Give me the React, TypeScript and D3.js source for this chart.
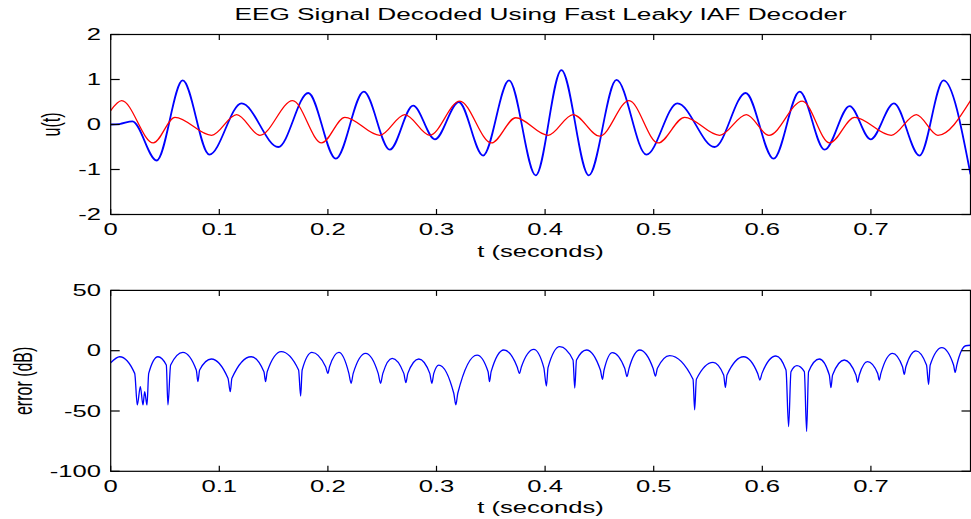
import React from 'react';
import * as d3 from 'd3';

// ---------- data ----------
const T_MAX = 0.7917;

// original EEG signal u(t): extrema [t (s), u]
const originalSignal: [number, number][] = [
  [0, 0], [0.008, 0.01], [0.02, 0.07], [0.0423, -0.80], [0.0663, 0.98], [0.0908, -0.67],
  [0.1205, 0.47], [0.1543, -0.50], [0.1819, 0.70], [0.2073, -0.76], [0.2331, 0.73],
  [0.2570, -0.56], [0.2785, 0.42], [0.2985, -0.33], [0.3205, 0.50], [0.3429, -0.69],
  [0.3668, 0.98], [0.3914, -1.13], [0.4150, 1.21], [0.4402, -1.13], [0.4657, 0.99],
  [0.4933, -0.67], [0.5218, 0.47], [0.5561, -0.50], [0.5847, 0.70], [0.6104, -0.76],
  [0.6344, 0.73], [0.6574, -0.56], [0.6804, 0.41], [0.6997, -0.33], [0.7212, 0.47],
  [0.7448, -0.69], [0.7669, 0.98], [0.7917, -1.11],
];

// decoded signal: extrema [t (s), u]
const decodedSignal: [number, number][] = [
  [0, 0.31], [0.0101, 0.53], [0.0392, -0.41], [0.0592, 0.16], [0.0929, -0.24],
  [0.1160, 0.22], [0.1374, -0.24], [0.1675, 0.53], [0.1942, -0.41], [0.2156, 0.16],
  [0.2478, -0.24], [0.2708, 0.22], [0.2938, -0.24], [0.3214, 0.52], [0.3506, -0.41],
  [0.3730, 0.15], [0.4027, -0.24], [0.4258, 0.22], [0.4503, -0.26], [0.4773, 0.53],
  [0.5040, -0.41], [0.5285, 0.16], [0.5607, -0.24], [0.5853, 0.22], [0.6061, -0.24],
  [0.6368, 0.52], [0.6620, -0.41], [0.6850, 0.16], [0.7187, -0.24], [0.7418, 0.22],
  [0.7617, -0.24], [0.7917, 0.53],
];

// reconstruction error in dB: arch tops, knees and dips [t (s), dB]
const errorDb: [number, number][] = [
  [0, -10], [0.0083, -5],
  [0.0221, -18.8], [0.0245, -45], [0.0273, -29.8], [0.0297, -45], [0.0313, -34], [0.0334, -45], [0.0350, -18.8],
  [0.0435, -5],
  [0.0512, -11.9], [0.0527, -45], [0.0552, -11.9],
  [0.0665, -1.4],
  [0.0788, -16], [0.0803, -25.7], [0.0819, -16],
  [0.0926, -6.9],
  [0.1080, -22.9], [0.1101, -34], [0.1116, -22.9],
  [0.1294, -5],
  [0.1411, -17.4], [0.1426, -25.7], [0.1441, -17.4],
  [0.1570, -0.8],
  [0.1730, -16], [0.1749, -37.6], [0.1763, -16],
  [0.1853, -1.4],
  [0.1979, -13.3], [0.2000, -18.8], [0.2015, -13.3],
  [0.2101, -1.4],
  [0.2193, -18.8], [0.2214, -27], [0.2233, -18.8],
  [0.2347, -2.2],
  [0.2463, -18.8], [0.2485, -27], [0.2506, -18.8],
  [0.2592, -6.3],
  [0.2699, -18.8], [0.2718, -26.5], [0.2736, -18.8],
  [0.2837, -6.9],
  [0.2938, -18.8], [0.2957, -27], [0.2975, -18.8],
  [0.3021, -11.9],
  [0.3159, -35.3], [0.3178, -45], [0.3196, -35.3],
  [0.3374, -3.6],
  [0.3475, -17.4], [0.3488, -25.7], [0.3503, -17.4],
  [0.3620, 0.6],
  [0.3742, -13.3], [0.3764, -18.8], [0.3782, -13.3],
  [0.3896, 1.1],
  [0.3988, -14], [0.4012, -29.3], [0.4027, -14],
  [0.4135, 3.3],
  [0.4257, -7.7], [0.4273, -31], [0.4289, -7.7],
  [0.4381, 0.6],
  [0.4509, -16], [0.4528, -23.7], [0.4543, -16],
  [0.4620, -1.6],
  [0.4733, -14.6], [0.4754, -21.5], [0.4773, -14.6],
  [0.4871, 0.6],
  [0.4994, -14.6], [0.5016, -21], [0.5034, -14.6],
  [0.5147, -4.1],
  [0.5362, -23.7], [0.5377, -49], [0.5393, -23.7],
  [0.5546, -9.7],
  [0.5644, -20.1], [0.5660, -30.4], [0.5675, -20.1],
  [0.5828, -5],
  [0.5957, -18.8], [0.5978, -24.3], [0.5997, -18.8],
  [0.6125, -4.4],
  [0.6218, -16], [0.6242, -63], [0.6264, -17.4],
  [0.6319, -12.4],
  [0.6387, -17.4], [0.6408, -67], [0.6426, -17.4],
  [0.6525, -6.9],
  [0.6617, -20.1], [0.6632, -30.7], [0.6647, -20.1],
  [0.6755, -7.7],
  [0.6862, -20.1], [0.6877, -26.2], [0.6893, -20.1],
  [0.6969, -9.1],
  [0.7062, -18.8], [0.7077, -24.3], [0.7092, -18.8],
  [0.7199, -2.2],
  [0.7291, -13.3], [0.7307, -19.6], [0.7322, -13.3],
  [0.7414, -0.2],
  [0.7512, -11.9], [0.7531, -27.9], [0.7546, -11.9],
  [0.7653, 2.5],
  [0.7761, -11.9], [0.7776, -18], [0.7791, -11.9],
  [0.7874, 4.1], [0.7917, 4.5],
];

const xTicks = [0, 0.1, 0.2, 0.3, 0.4, 0.5, 0.6, 0.7];
const xTickLabels = ['0', '0.1', '0.2', '0.3', '0.4', '0.5', '0.6', '0.7'];
const topYTicks = [-2, -1, 0, 1, 2];
const topYTickLabels = ['-2', '-1', '0', '1', '2'];
const bottomYTicks = [-100, -50, 0, 50];
const bottomYTickLabels = ['-100', '-50', '0', '50'];

const TITLE = 'EEG Signal Decoded Using Fast Leaky IAF Decoder';
const X_LABEL = 't (seconds)';
const TOP_Y_LABEL = 'u(t)';
const BOTTOM_Y_LABEL = 'error (dB)';

// ---------- layout ----------
const W = 971;
const H = 519;
const SX = 1.6; // horizontal stretch of the whole reference figure
const FONT = "'Liberation Sans', Arial, Helvetica, sans-serif";
const LEFT = 110.7;
const RIGHT = 970.5;

function Label({ x, y, anchor = 'middle', rotate = false, size = 16, children }: any) {
  const tr = `translate(${x},${y}) scale(${SX},1)` + (rotate ? ' rotate(-90)' : '');
  return (
    <text transform={tr} textAnchor={anchor} fontFamily={FONT} fontSize={size} fill="#000">
      {children}
    </text>
  );
}

function Panel({ top, bottom, yDomain, yTicks, yTickLabels, yLabel, yLabelX, series, id }: any) {
  const x = d3.scaleLinear().domain([0, T_MAX]).range([LEFT, RIGHT]);
  const y = d3.scaleLinear().domain(yDomain).range([bottom, top]);
  const line = d3
    .line<[number, number]>()
    .x((d) => x(d[0]))
    .y((d) => y(d[1]))
    .curve(d3.curveMonotoneX);
  const tl = 5.5;
  const tlx = 9;
  return (
    <g>
      <defs>
        <clipPath id={id}>
          <rect x={LEFT} y={top} width={RIGHT - LEFT} height={bottom - top} />
        </clipPath>
      </defs>
      <g clipPath={`url(#${id})`}>
        {series.map((s: any, i: number) => (
          <path key={i} d={line(s.data) || ''} fill="none" stroke={s.color} strokeWidth={s.width} />
        ))}
      </g>
      <rect x={LEFT} y={top} width={RIGHT - LEFT} height={bottom - top} fill="none" stroke="#000" strokeWidth={1.2} />
      {xTicks.map((t, i) => (
        <g key={'xt' + i}>
          <line x1={x(t)} x2={x(t)} y1={bottom} y2={bottom - tl} stroke="#000" strokeWidth={1.2} />
          <line x1={x(t)} x2={x(t)} y1={top} y2={top + tl} stroke="#000" strokeWidth={1.2} />
          <Label x={x(t)} y={bottom + 20.5}>{xTickLabels[i]}</Label>
        </g>
      ))}
      {yTicks.map((v: number, i: number) => (
        <g key={'yt' + i}>
          <line x1={LEFT} x2={LEFT + tlx} y1={y(v)} y2={y(v)} stroke="#000" strokeWidth={1.2} />
          <line x1={RIGHT} x2={RIGHT - tlx} y1={y(v)} y2={y(v)} stroke="#000" strokeWidth={1.2} />
          <Label x={101} y={y(v) + 5.7} anchor="end">{yTickLabels[i]}</Label>
        </g>
      ))}
      <Label x={(LEFT + RIGHT) / 2} y={bottom + 42}>{X_LABEL}</Label>
      <Label x={yLabelX} y={(top + bottom) / 2} rotate>{yLabel}</Label>
    </g>
  );
}

export default function App() {
  return (
    <svg
      width={W}
      height={H}
      viewBox={`0 0 ${W} ${H}`}
      style={{ position: 'absolute', left: 0, top: 0, background: '#fff' }}
    >
      <rect x={0} y={0} width={W} height={H} fill="#fff" />
      <Label x={(LEFT + RIGHT) / 2} y={20} size={16.4}>{TITLE}</Label>
      <Panel
        id="clipTop"
        top={34.5}
        bottom={214.5}
        yDomain={[-2, 2]}
        yTicks={topYTicks}
        yTickLabels={topYTickLabels}
        yLabel={TOP_Y_LABEL}
        yLabelX={59.5}
        series={[
          { data: originalSignal, color: '#0000ff', width: 1.8 },
          { data: decodedSignal, color: '#ff0000', width: 1.3 },
        ]}
      />
      <Panel
        id="clipBottom"
        top={290.4}
        bottom={471.3}
        yDomain={[-100, 50]}
        yTicks={bottomYTicks}
        yTickLabels={bottomYTickLabels}
        yLabel={BOTTOM_Y_LABEL}
        yLabelX={32}
        series={[{ data: errorDb, color: '#0000ff', width: 1.3 }]}
      />
    </svg>
  );
}
